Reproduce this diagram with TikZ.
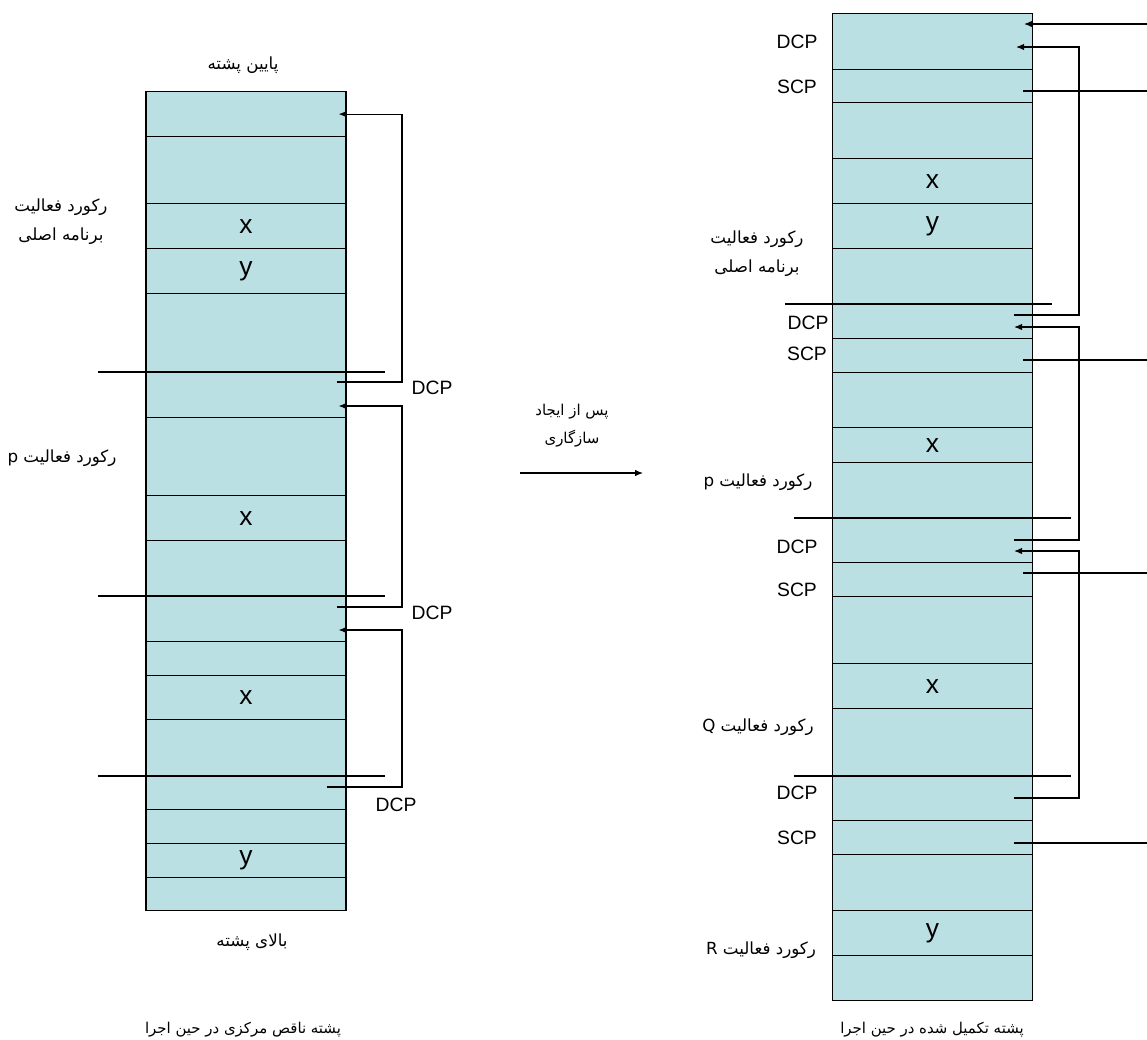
\documentclass[tikz,border=0pt]{standalone}
\usepackage{fontspec}
\setmainfont{Liberation Sans}
\newfontfamily\fafont[Script=Arabic]{DejaVu Sans}
\TeXXeTstate=1
\usetikzlibrary{arrows.meta,calc}
\definecolor{stackfill}{HTML}{BBE0E3}

\begin{document}
\begin{tikzpicture}[x=0.02cm, y=-0.02cm,
  cell/.style={draw, fill=stackfill, line width=0.7pt, minimum width=4cm,
    inner sep=0pt, anchor=north, font=\fontsize{15}{18}\selectfont},
  ptr/.style={font=\fontsize{11}{14}\selectfont},
  fa/.style={font=\fafont\fontsize{9.5}{16.5}\selectfont, align=center},
  title/.style={font=\fafont\fontsize{8.5}{12}\selectfont},
  sep/.style={line width=0.6pt},
  link/.style={line width=0.6pt},
  >={Latex[length=1.6mm,width=1.3mm]}
]
\useasboundingbox (0,0) rectangle (1147,1039);

% left stack: central stack, incomplete
\foreach \ya/\yb/\lab [count=\i] in {91/136/{}, 136/203/{}, 203/248/x, 248/293/y,
    293/372/{}, 372/417/{}, 417/495/{}, 495/540/x, 540/596/{}, 596/641/{},
    641/675/{}, 675/719/x, 719/776/{}, 776/809/{}, 809/843/{}, 843/877/y, 877/910/{}}
  \node[cell, minimum height={(\yb-\ya)*0.02cm}] (l\i) at (246,\ya) {\lab};

% right stack: completed stack
\foreach \ya/\yb/\lab [count=\i] in {13/69/{}, 69/102/{}, 102/158/{}, 158/203/x,
    203/248/y, 248/304/{}, 304/338/{}, 338/372/{}, 372/427/{}, 427/462/x,
    462/518/{}, 518/562/{}, 562/596/{}, 596/663/{}, 663/708/x, 708/776/{},
    776/820/{}, 820/854/{}, 854/910/{}, 910/955/y, 955/1000/{}}
  \node[cell, minimum height={(\yb-\ya)*0.02cm}] (r\i) at (932.5,\ya) {\lab};

% record boundaries
\foreach \c in {l6,l10,l14}
  \draw[sep] ($(\c.north west)+(-47,0)$) -- ($(\c.north east)+(38,0)$);
\draw[sep] ($(r7.north west)+(-47,0)$) -- ($(r7.north east)+(19,0)$);
\foreach \c in {r12,r17}
  \draw[sep] ($(\c.north west)+(-38,0)$) -- ($(\c.north east)+(38,0)$);

% labels, left
\node[fa] (bottomL) at (243,65) {\beginR پایین پشته\endR};
\node[fa] (topL) at (252,942) {\beginR بالای  پشته\endR};
\node[fa] (mainL) at (61,222) {\beginR رکورد فعالیت\endR\\\beginR برنامه اصلی\endR};
\node[fa] (pL) at (62,458) {\beginR رکورد فعالیت p\endR};
\node[ptr] (dcpL1) at (432,388) {DCP};
\node[ptr] (dcpL2) at (432,613) {DCP};
\node[ptr] (dcpL3) at (396,805) {DCP};
\node[title] (titleL) at (243,1030) {\beginR پشته ناقص مرکزی در حین اجرا\endR};

% labels, right
\node[ptr] (dcpR1) at (797,42) {DCP};
\node[ptr] (scpR1) at (797,87) {SCP};
\node[ptr] (dcpR2) at (808,323) {DCP};
\node[ptr] (scpR2) at (807,354) {SCP};
\node[ptr] (dcpR3) at (797,547) {DCP};
\node[ptr] (scpR3) at (797,590) {SCP};
\node[ptr] (dcpR4) at (797,793) {DCP};
\node[ptr] (scpR4) at (797,838) {SCP};
\node[fa] (mainR) at (757,254) {\beginR رکورد فعالیت\endR\\\beginR برنامه اصلی\endR};
\node[fa] (pR) at (758,482) {\beginR رکورد فعالیت p\endR};
\node[fa] (qR) at (758,727) {\beginR رکورد فعالیت Q\endR};
\node[fa] (rR) at (761,950) {\beginR رکورد فعالیت R\endR};
\node[title] (titleR) at (932,1030) {\beginR پشته تکمیل شده در حین اجرا\endR};

% middle
\node[fa, font=\fafont\fontsize{8.5}{16}\selectfont] (after) at (572,426)
  {\beginR پس از ایجاد\endR\\\beginR سازگاری\endR};
\coordinate (fromM) at (520,473);
\coordinate (toM) at (643,473);
\draw[link,->] (fromM) -- (toM);

% dynamic links, left
\coordinate (railL) at (402,0);
\coordinate (tipL1) at ($(l1.east)+(-8,0)$);
\coordinate (srcL1) at ($(l6.north east)+(-10,10)$);
\coordinate (tipL2) at ($(l6.north east)+(-8,34)$);
\coordinate (srcL2) at ($(l10.north east)+(-10,11)$);
\coordinate (tipL3) at ($(l10.north east)+(-8,34)$);
\coordinate (srcL3) at ($(l14.north east)+(-20,11)$);
\draw[link,->] (srcL1) -- (srcL1 -| railL) |- (tipL1);
\draw[link,->] (srcL2) -- (srcL2 -| railL) |- (tipL2);
\draw[link,->] (srcL3) -- (srcL3 -| railL) |- (tipL3);

% dynamic and static links, right
\coordinate (railR) at (1079,0);
\coordinate (edgeR) at (1147,0);
\coordinate (tipR0) at ($(r1.north east)+(-9,11)$);
\coordinate (tipR1) at ($(r1.north east)+(-17,34)$);
\coordinate (srcR1) at ($(r7.north east)+(-19,11)$);
\coordinate (tipR2) at ($(r7.north east)+(-19,23)$);
\coordinate (srcR2) at ($(r12.north east)+(-19,22)$);
\coordinate (tipR3) at ($(r12.north east)+(-19,33)$);
\coordinate (srcR3) at ($(r17.north east)+(-19,22)$);
\coordinate (scp1) at ($(r2.north east)+(-10,22)$);
\coordinate (scp2) at ($(r8.north east)+(-10,22)$);
\coordinate (scp3) at ($(r13.north east)+(-10,11)$);
\coordinate (scp4) at ($(r18.north east)+(-19,23)$);
\draw[link,->] (tipR0 -| edgeR) -- (tipR0);
\draw[link,->] (srcR1) -- (srcR1 -| railR) |- (tipR1);
\draw[link,->] (srcR2) -- (srcR2 -| railR) |- (tipR2);
\draw[link,->] (srcR3) -- (srcR3 -| railR) |- (tipR3);
\foreach \s in {scp1,scp2,scp3,scp4}
  \draw[link] (\s) -- (\s -| edgeR);
\end{tikzpicture}
\end{document}
